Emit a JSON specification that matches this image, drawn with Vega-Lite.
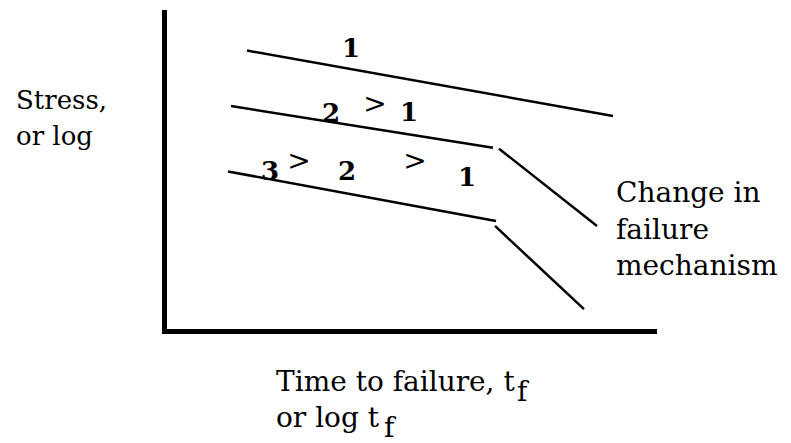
{
  "$schema": "https://vega.github.io/schema/vega-lite/v6.json",
  "width": 791,
  "height": 443,
  "autosize": {"type": "fit", "contains": "padding"},
  "padding": 0,
  "background": "white",
  "config": {"view": {"stroke": null}},
  "datasets": {
    "axes": [
      {"x": 164.5, "y": 10, "x2": 164.5, "y2": 337},
      {"x": 162, "y": 334.5, "x2": 657, "y2": 334.5}
    ],
    "curves": [
      {"x": 247, "y": 51, "x2": 613, "y2": 117},
      {"x": 231, "y": 107, "x2": 493, "y2": 149},
      {"x": 499, "y": 150, "x2": 597, "y2": 228},
      {"x": 228, "y": 173, "x2": 496, "y2": 223},
      {"x": 495, "y": 228, "x2": 584, "y2": 312}
    ],
    "digits": [
      {"t": "1", "x": 351, "y": 58},
      {"t": "2", "x": 331, "y": 123},
      {"t": "1", "x": 409, "y": 122},
      {"t": "3", "x": 270, "y": 182},
      {"t": "2", "x": 347, "y": 182},
      {"t": "1", "x": 467, "y": 188}
    ],
    "gt": [
      {"t": ">", "x": 375, "y": 114},
      {"t": ">", "x": 299, "y": 172},
      {"t": ">", "x": 415, "y": 172}
    ],
    "leftlab": [
      {"t": "Stress,", "x": 16, "y": 110},
      {"t": "or log", "x": 16, "y": 146}
    ],
    "biglab": [
      {"t": "Change in", "x": 616, "y": 204},
      {"t": "failure", "x": 616, "y": 241},
      {"t": "mechanism", "x": 616, "y": 278},
      {"t": "Time to failure, t", "x": 276, "y": 395},
      {"t": "f", "x": 517, "y": 405},
      {"t": "or log t", "x": 276, "y": 431},
      {"t": "f", "x": 384, "y": 441}
    ]
  },
  "layer": [
    {
      "data": {"name": "axes"},
      "mark": {"type": "rule", "color": "black", "strokeWidth": 5},
      "encoding": {
        "x": {"field": "x", "type": "quantitative", "scale": {"domain": [0, 791], "nice": false, "zero": false}, "axis": null},
        "x2": {"field": "x2"},
        "y": {"field": "y", "type": "quantitative", "scale": {"domain": [0, 443], "nice": false, "zero": false, "reverse": true}, "axis": null},
        "y2": {"field": "y2"}
      }
    },
    {
      "data": {"name": "curves"},
      "mark": {"type": "rule", "color": "black", "strokeWidth": 2.5},
      "encoding": {
        "x": {"field": "x", "type": "quantitative", "axis": null},
        "x2": {"field": "x2"},
        "y": {"field": "y", "type": "quantitative", "axis": null},
        "y2": {"field": "y2"}
      }
    },
    {
      "data": {"name": "digits"},
      "mark": {"type": "text", "font": "DejaVu Serif", "fontWeight": "bold", "fontSize": 26, "align": "center", "baseline": "alphabetic", "color": "black"},
      "encoding": {
        "x": {"field": "x", "type": "quantitative", "axis": null},
        "y": {"field": "y", "type": "quantitative", "axis": null},
        "text": {"field": "t"}
      }
    },
    {
      "data": {"name": "gt"},
      "mark": {"type": "text", "font": "DejaVu Serif", "fontSize": 28, "align": "center", "baseline": "alphabetic", "color": "black"},
      "encoding": {
        "x": {"field": "x", "type": "quantitative", "axis": null},
        "y": {"field": "y", "type": "quantitative", "axis": null},
        "text": {"field": "t"}
      }
    },
    {
      "data": {"name": "leftlab"},
      "mark": {"type": "text", "font": "DejaVu Serif", "fontSize": 26, "align": "left", "baseline": "alphabetic", "color": "black"},
      "encoding": {
        "x": {"field": "x", "type": "quantitative", "axis": null},
        "y": {"field": "y", "type": "quantitative", "axis": null},
        "text": {"field": "t"}
      }
    },
    {
      "data": {"name": "biglab"},
      "mark": {"type": "text", "font": "DejaVu Serif", "fontSize": 28, "align": "left", "baseline": "alphabetic", "color": "black"},
      "encoding": {
        "x": {"field": "x", "type": "quantitative", "axis": null},
        "y": {"field": "y", "type": "quantitative", "axis": null},
        "text": {"field": "t"}
      }
    }
  ]
}
